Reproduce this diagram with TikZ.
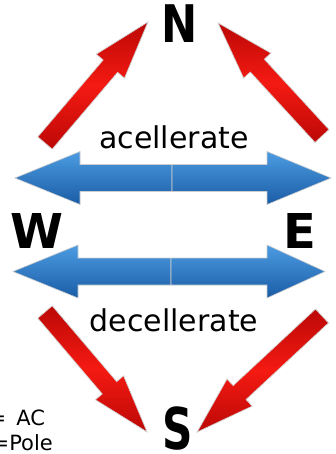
\documentclass[tikz,border=0pt]{standalone}
\usepackage{fontspec}
\setmainfont{DejaVu Sans}
\definecolor{blueA}{HTML}{4C9CE2}
\definecolor{blueB}{HTML}{1A5CA6}
\definecolor{redA}{HTML}{F41A12}
\definecolor{redB}{HTML}{BC0806}
\newcommand\myredarr[4]{%
  \begin{scope}[shift={(#1,#2)}, rotate=#3]
    \path[redarrow] (0,-9.5) -- (#4-58,-9.5) -- (#4-58,-18.5) -- (#4,0) -- (#4-58,18.5) -- (#4-58,9.5) -- (0,9.5) -- cycle;
  \end{scope}}
\newcommand\mybluehalf[4]{%
  \path[bluehalf] (#1,#4-13.5) -- (#2,#4-13.5) -- (#2,#4-26.5) -- (#3,#4) -- (#2,#4+26.5) -- (#2,#4+13.5) -- (#1,#4+13.5) -- cycle;}
\begin{document}
\begin{tikzpicture}[x=1pt,y=1pt,
  redarrow/.style={draw=gray!35, line width=0.7pt, top color=redB, bottom color=redB, middle color=redA},
  bluehalf/.style={draw=gray!40, line width=0.6pt, top color=blueA, bottom color=blueB},
  letter/.style={font=\fontsize{48}{48}\selectfont\bfseries, inner sep=0pt, anchor=base},
  wordlabel/.style={font=\fontsize{30}{30}\selectfont, inner sep=0pt, anchor=base},
  note/.style={font=\fontsize{21}{21}\selectfont, inner sep=0pt, anchor=base west}]
\useasboundingbox (0,0) rectangle (336,-454);
\fill[white] (0,0) rectangle (336,-454);
\clip (0,0) rectangle (336,-454);
% blue double arrows
\mybluehalf{172}{80}{15}{-178}
\mybluehalf{172}{267}{331}{-178}
\mybluehalf{171}{78}{13}{-271.5}
\mybluehalf{171}{267}{325}{-271.5}
% red arrows
\myredarr{45}{-143}{49.6}{158.9}
\myredarr{322}{-136}{132.6}{153.6}
\myredarr{45}{-312}{-49.6}{157.5}
\myredarr{322}{-316}{-137.1}{170.5}
% letters
\node[letter] (N) at (180,-43) {\scalebox{0.9}[1.08]{N}};
\node[letter] (W) at (37,-248) {W};
\node[letter] (E) at (300,-248) {E};
\node[letter] (S) at (178,-449) {\scalebox{0.88}[1.2]{S}};
\node[wordlabel] (acc) at (174,-149) {acellerate};
\node[wordlabel] (dec) at (174,-331) {decellerate};
\node[note] (ac) at (-11.5,-425) {=\hspace{10pt}AC};
\node[note] (pole) at (-8.5,-450) {=Pole};
\end{tikzpicture}
\end{document}
